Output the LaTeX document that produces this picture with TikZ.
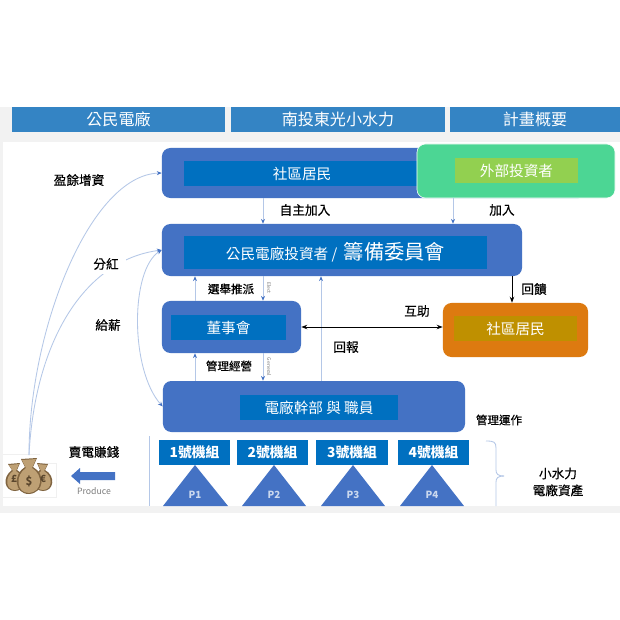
\documentclass[tikz,border=0pt]{standalone}
\usepackage{fontspec}
\setmainfont{Noto Sans CJK TC}
\newfontfamily\labelfont[FakeBold=0.35]{Noto Sans CJK TC}
\usetikzlibrary{positioning, arrows.meta}
\definecolor{hdrblue}{RGB}{52, 132, 196}
\definecolor{panelblue}{RGB}{68, 114, 196}
\definecolor{innerblue}{RGB}{0, 112, 192}
\definecolor{linkblue}{RGB}{180, 199, 231}
\definecolor{outgreen}{RGB}{76, 214, 148}
\definecolor{outlime}{RGB}{146, 208, 80}
\definecolor{orangebox}{RGB}{221, 122, 16}
\definecolor{orangein}{RGB}{191, 144, 0}
\definecolor{bagtan}{RGB}{190, 160, 116}
\definecolor{bagdark}{RGB}{128, 100, 64}

\begin{document}
\begin{tikzpicture}[
        x=0.025cm, y=-0.025cm,
        hdr/.style={fill=hdrblue, inner sep=0pt, minimum height=0.625cm,
            text=white, font=\fontsize{11.4}{13}\selectfont},
        panel/.style={fill=panelblue, rounded corners=6pt, inner sep=0pt},
        inbox/.style={fill=innerblue, inner sep=0pt, minimum height=0.625cm,
            text=white, font=\fontsize{10.4}{12}\selectfont},
        unitbox/.style={fill=innerblue, inner sep=0pt, minimum height=0.625cm,
            text=white, font=\fontsize{9.8}{12}\selectfont\bfseries},
        lbl/.style={font=\labelfont\fontsize{9}{12}\selectfont, inner sep=0pt, align=center},
        smalllbl/.style={font=\labelfont\fontsize{8.2}{10}\selectfont, inner sep=0pt},
        tinylbl/.style={font=\fontsize{3.6}{4}\selectfont, text=gray, rotate=-90, inner sep=0pt},
        plbl/.style={font=\fontsize{7}{8}\selectfont\bfseries, text=linkblue!70!white, inner sep=0pt},
        peak/.style={fill=panelblue},
        flowarr/.style={-{Stealth[length=1.2mm, width=1mm, color=panelblue]}, linkblue, line width=0.6pt},
        blackarr/.style={-{Stealth[length=1.5mm]}, black, line width=0.7pt}
    ]
    \useasboundingbox (0,0) rectangle (620,620);

    % === Page background ===
    \fill[black!5] (0,107) rectangle (620,513);
    \fill[white] (3,142) rectangle (620,506);

    % === Header bars ===
    \node[hdr, minimum width=5.325cm] (hdr1) at (118.5,119.5) {公民電廠};
    \node[hdr, minimum width=5.35cm] (hdr2) at (338,119.5) {南投東光小水力};
    \node[hdr, minimum width=4.25cm] (hdr3) at (535,119.5) {計畫概要};

    % === Boxes ===
    \node[panel, minimum width=10.625cm, minimum height=1.25cm] (resident) at (374.5,173) {};
    \node[inbox, minimum width=5.9cm] (residentin) at (302,173.5) {社區居民};
    \node[panel, fill=outgreen, draw=white, minimum width=4.95cm, minimum height=1.35cm] (outside) at (516,171) {};
    \node[inbox, fill=outlime, minimum width=3.075cm] (outsidein) at (516.5,170.5) {外部投資者};

    \node[panel, minimum width=9cm, minimum height=1.3cm] (investor) at (342,250) {};
    \node[inbox, minimum height=0.825cm, minimum width=7.575cm] (investorin) at (335.5,252.5)
        {公民電廠投資者\ /\ \ {\fontsize{14.4}{16}\selectfont 籌備委員會}};

    \node[panel, minimum width=3.475cm, minimum height=1.3cm] (board) at (231.5,327) {};
    \node[inbox, minimum width=2.875cm] (boardin) at (228.5,327.5) {董事會};

    \node[panel, minimum width=7.55cm, minimum height=1.275cm] (staff) at (314,406.5) {};
    \node[inbox, minimum width=3.95cm] (staffin) at (319,407.5) {電廠幹部 與 職員};

    \node[panel, fill=orangebox, minimum width=3.625cm, minimum height=1.35cm] (helper) at (515.5,330) {};
    \node[inbox, fill=orangein, minimum width=3.075cm] (helperin) at (515.5,328.5) {社區居民};

    % === Generators ===
    \node[unitbox, minimum width=1.775cm] (unit1) at (194.5,452.5) {1號機組};
    \node[unitbox, minimum width=1.775cm] (unit2) at (272.5,452.5) {2號機組};
    \node[unitbox, minimum width=1.8cm] (unit3) at (352,452.5) {3號機組};
    \node[unitbox, minimum width=1.775cm] (unit4) at (433.5,452.5) {4號機組};
    \fill[peak] (163,506) -- (195,465) -- (228,506) -- cycle;
    \fill[peak] (242,506) -- (274,465) -- (306,506) -- cycle;
    \fill[peak] (321,506) -- (353,465) -- (385,506) -- cycle;
    \fill[peak] (400,506) -- (432,465) -- (464,506) -- cycle;
    \node[plbl] (p1) at (195,495) {P1};
    \node[plbl] (p2) at (274,495) {P2};
    \node[plbl] (p3) at (353,495) {P3};
    \node[plbl] (p4) at (432,495) {P4};
    \draw[linkblue, line width=0.6pt] (149,436) -- (149,506);
    \draw[linkblue, line width=0.6pt] (486,441) .. controls (494,441) and (496,442) .. (496,448)
        -- (496,470) .. controls (496,474) and (498,476) .. (504,476);
    \draw[linkblue, line width=0.6pt] (504,476) .. controls (498,476) and (496,478) .. (496,482) -- (496,506);

    % === Money bags ===
    \draw[black!6] (3,454) -- (40,454);
    \draw[black!6] (40,463) -- (56,463) -- (56,497) -- (3,497);
    \fill[bagdark] (8,464) -- (20,463) -- (17,470) .. controls (28,476) and (26,491) .. (15,491)
        .. controls (4,491) and (2,477) .. (12,470) -- cycle;
    \fill[bagtan] (9,465) -- (19,464) -- (16,471) .. controls (26,477) and (24,490) .. (15,490)
        .. controls (6,490) and (4,478) .. (13,471) -- cycle;
    \fill[bagdark] (37,463) -- (48,464) -- (45,470) .. controls (56,476) and (54,491) .. (43,491)
        .. controls (32,491) and (31,476) .. (40,470) -- cycle;
    \fill[bagtan] (38,464) -- (47,465) -- (44,471) .. controls (54,477) and (52,490) .. (43,490)
        .. controls (34,490) and (33,478) .. (41,471) -- cycle;
    \fill[bagdark] (21,459) -- (37,458) -- (33,467) .. controls (46,474) and (44,493) .. (29,494)
        .. controls (14,494) and (13,474) .. (25,467) -- cycle;
    \fill[bagtan] (22,460) -- (36,459) -- (32,468) .. controls (44,475) and (42,492) .. (29,493)
        .. controls (16,493) and (15,475) .. (26,468) -- cycle;
    \node[font=\fontsize{7}{8}\selectfont\bfseries, text=bagdark!70!black, inner sep=0pt] (pound) at (14,479) {£};
    \node[font=\fontsize{8}{9}\selectfont\bfseries, text=bagdark!70!black, inner sep=0pt] (dollar) at (29,481) {\$};
    \node[font=\fontsize{7}{8}\selectfont\bfseries, text=bagdark!70!black, inner sep=0pt] (euro) at (43,479) {€};
    \coordinate (bags) at (29,455);

    % === Produce arrow ===
    \fill[panelblue] (115,472) -- (80,472) -- (80,468) -- (71,476) -- (80,484) -- (80,480) -- (115,480) -- cycle;
    \node[font=\fontsize{6.2}{8}\selectfont, text=gray, inner sep=0pt] (produce) at (94,491) {Produce};

    % === Curved links ===
    \draw[flowarr] (bags) .. controls (29,330) and (90,175) .. (resident.west);
    \draw[flowarr] (bags) .. controls (35,340) and (85,260) .. (investor.west);
    \draw[flowarr, {Stealth[length=1.2mm, width=1mm, color=panelblue]}-{Stealth[length=1.2mm, width=1mm, color=panelblue]}]
        (investor.west) .. controls (130,270) and (130,370) .. (staff.west);

    % === Vertical links ===
    \coordinate (xa) at (195,0);
    \coordinate (xb) at (263,0);
    \coordinate (xc) at (321,0);
    \coordinate (xd) at (453,0);
    \coordinate (xe) at (512,0);
    \draw[flowarr] (resident.south -| xb) -- (investor.north -| xb);
    \draw[flowarr] (outside.south -| xd) -- (investor.north -| xd);
    \draw[flowarr] (board.north -| xa) -- (investor.south -| xa);
    \draw[flowarr] (investor.south -| xb) -- (board.north -| xb);
    \draw[flowarr] (staff.north -| xa) -- (board.south -| xa);
    \draw[flowarr] (board.south -| xb) -- (staff.north -| xb);
    \draw[flowarr] (staff.north -| xc) -- (investor.south -| xc);
    \draw[blackarr] (investor.south -| xe) -- (helper.north -| xe);
    \draw[blackarr, {Stealth[length=1.5mm]}-{Stealth[length=1.5mm]}] (board.east) -- (board.east -| helper.west);

    % === Labels ===
    \node[lbl] (surplus) at (79,180) {盈餘增資};
    \node[lbl, fill=white, inner xsep=5pt, inner ysep=3pt] (bonus) at (106,264) {分紅};
    \node[lbl] (salary) at (108,325) {給薪};
    \node[lbl] (selfjoin) at (305,210) {自主加入};
    \node[lbl] (join) at (502,210) {加入};
    \node[smalllbl] (elect) at (231,289) {選舉推派};
    \node[tinylbl] (electen) at (269,288) {Elect};
    \node[smalllbl] (manage) at (229,366) {管理經營};
    \node[tinylbl] (generalen) at (269,367) {General};
    \node[lbl] (report) at (346,347) {回報};
    \node[lbl] (mutual) at (417,311) {互助};
    \node[lbl] (feedback) at (534,289) {回饋};
    \node[smalllbl] (operate) at (499,420) {管理運作};
    \node[lbl] (sell) at (94,452) {賣電賺錢};
    \node[lbl] (assets) at (558,482) {小水力\\電廠資產};

\end{tikzpicture}
\end{document}
